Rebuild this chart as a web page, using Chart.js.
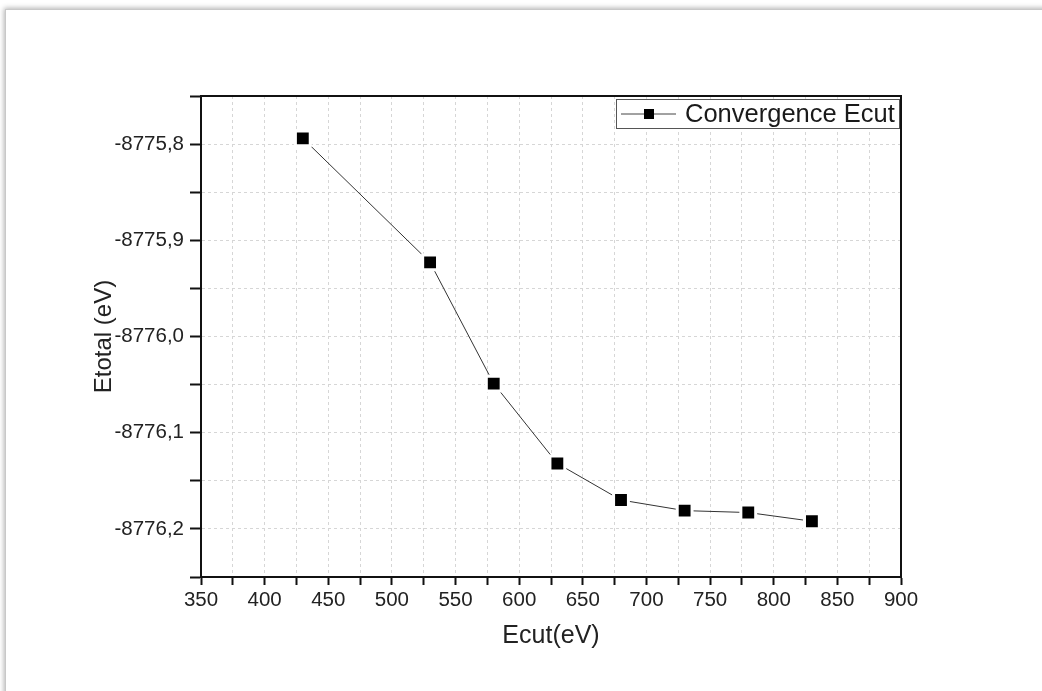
<!DOCTYPE html>
<html>
<head>
<meta charset="utf-8">
<script src="https://cdn.jsdelivr.net/npm/chart.js@4/dist/chart.umd.min.js"></script>
<style>
  html, body { margin: 0; padding: 0; background: #fff; overflow: hidden; }
  #page { position: absolute; left: 5px; top: 9px; width: 1100px; height: 800px;
          border: 1px solid #c8c8c8; box-shadow: -1px -1px 5px rgba(0,0,0,0.3); background: #fff; }
  #wrap { position: absolute; left: 0; top: 0; width: 1042px; height: 691px; }
</style>
</head>
<body>
<div id="page"></div>
<div id="wrap"><canvas id="c" width="1042" height="691"></canvas></div>
<script>
// ---- data ----
const ecut = [430, 530, 580, 630, 680, 730, 780, 830];
const etotal = [-8775.794, -8775.923, -8776.049, -8776.132, -8776.170, -8776.181, -8776.183, -8776.192];
const seriesLabel = 'Convergence Ecut';
const xTitle = 'Ecut(eV)';
const yTitle = 'Etotal (eV)';

const FONT = "'Liberation Sans', Arial, Helvetica, sans-serif";

const points = ecut.map((x, i) => ({ x: x, y: etotal[i] }));

const framePlugin = {
  id: 'frame',
  afterDraw(chart) {
    const { ctx, chartArea: a } = chart;
    ctx.save();
    ctx.strokeStyle = '#111';
    ctx.lineWidth = 2;
    ctx.beginPath();
    ctx.moveTo(a.left, a.top);
    ctx.lineTo(a.right, a.top);
    ctx.lineTo(a.right, a.bottom);
    ctx.stroke();
    // legend
    const ds = chart.data.datasets[0];
    const bx = 616, by = 99, bw = 283, bh = 29;
    ctx.fillStyle = '#fff';
    ctx.fillRect(bx, by, bw, bh);
    ctx.lineWidth = 1;
    ctx.strokeStyle = '#555';
    ctx.strokeRect(bx + 0.5, by + 0.5, bw, bh);
    const cy = by + bh / 2 + 0.5;
    ctx.strokeStyle = '#444';
    ctx.beginPath();
    ctx.moveTo(bx + 5, cy);
    ctx.lineTo(bx + 60, cy);
    ctx.stroke();
    ctx.fillStyle = '#000';
    ctx.fillRect(bx + 28, cy - 5, 10, 10);
    ctx.fillStyle = '#1a1a1a';
    ctx.font = '25.5px ' + FONT;
    ctx.textBaseline = 'middle';
    ctx.textAlign = 'left';
    ctx.fillText(ds.label, bx + 69, cy + 1);
    ctx.restore();
  }
};

new Chart(document.getElementById('c'), {
  type: 'scatter',
  data: {
    datasets: [{
      label: seriesLabel,
      data: points,
      showLine: true,
      borderColor: '#333',
      borderWidth: 1,
      pointStyle: 'rect',
      pointRadius: 10.5,
      pointHoverRadius: 10.5,
      pointBackgroundColor: '#000',
      pointBorderColor: '#fff',
      pointBorderWidth: 3,
      clip: false
    }]
  },
  options: {
    responsive: false,
    animation: false,
    events: [],
    layout: { padding: { left: 86, right: 141, top: 96, bottom: 35.6 } },
    plugins: { legend: { display: false }, tooltip: { enabled: false } },
    scales: {
      x: {
        type: 'linear',
        min: 350, max: 900,
        afterFit(s) { s.height = 78.4; },
        ticks: {
          stepSize: 25,
          autoSkip: false,
          maxRotation: 0,
          color: '#222',
          font: { family: FONT, size: 20.5 },
          callback: (v) => (Math.round(v) % 50 === 0 ? String(Math.round(v)) : '')
        },
        grid: { color: '#d6d6d6', lineWidth: 1, tickColor: '#111', tickLength: 8, tickWidth: 2, tickBorderDash: [] },
        border: { color: '#111', width: 2, dash: [3, 3] },
        title: { display: true, text: xTitle, color: '#222', font: { family: FONT, size: 25 } }
      },
      y: {
        type: 'linear',
        min: -8776.25, max: -8775.75,
        afterFit(s) { s.width = 115; },
        ticks: {
          stepSize: 0.05,
          autoSkip: false,
          padding: 6,
          color: '#222',
          font: { family: FONT, size: 20.5 },
          callback: (v) => {
            const t = v * 10;
            return Math.abs(t - Math.round(t)) < 1e-4 ? v.toFixed(1).replace('.', ',') : '';
          }
        },
        grid: { color: '#d6d6d6', lineWidth: 1, tickColor: '#111', tickLength: 11, tickWidth: 2, tickBorderDash: [] },
        border: { color: '#111', width: 2, dash: [3, 3] },
        title: { display: true, text: yTitle, color: '#222', font: { family: FONT, size: 24 } }
      }
    }
  },
  plugins: [framePlugin]
});
</script>
</body>
</html>
